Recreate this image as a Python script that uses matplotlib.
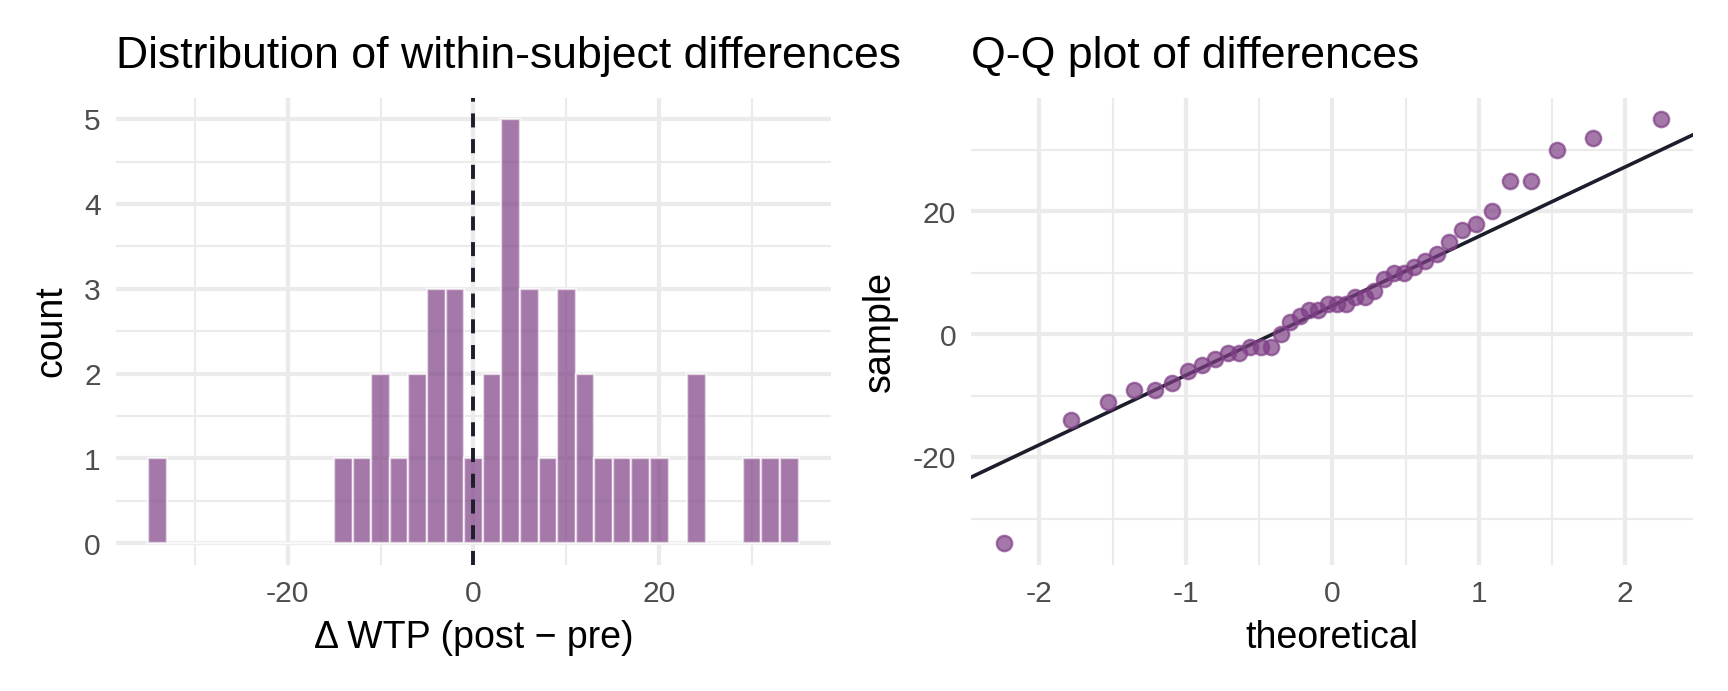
from statistics import NormalDist
import numpy as np
import matplotlib
matplotlib.use("Agg")
from matplotlib import pyplot as plt

plt.rcParams['font.family'] = ['Liberation Sans', 'DejaVu Sans']
plt.rcParams['axes.unicode_minus'] = False

# within-subject differences (post - pre)
diffs = [-34, -14, -11, -9, -9, -8, -6, -5, -4, -3, -3, -2, -2, -2, 0,
         2, 3, 4, 4, 5, 5, 5, 6, 6, 7, 9, 10, 10, 11, 12,
         13, 15, 17, 18, 20, 25, 25, 30, 32, 35]
bin_edges = np.arange(-35, 37, 2)
hist_xticks = [-20, 0, 20]
hist_yticks = [0, 1, 2, 3, 4, 5]
qq_xticks = [-2, -1, 0, 1, 2]
qq_yticks = [-20, 0, 20]

purple = '#7f3f86'
grid_col = '#ebebeb'
tick_col = '#4d4d4d'
line_col = '#1c1f2b'

fig = plt.figure(figsize=(8, 3.2), dpi=216)
ax1 = fig.add_axes([0.067, 0.183, 0.414, 0.675])
ax2 = fig.add_axes([0.562, 0.183, 0.418, 0.675])


def style(ax, xminor, yminor):
    for s in ax.spines.values():
        s.set_visible(False)
    ax.set_axisbelow(True)
    ax.set_xticks(xminor, minor=True)
    ax.set_yticks(yminor, minor=True)
    ax.grid(True, which='major', color=grid_col, linewidth=1.4)
    ax.grid(True, which='minor', color=grid_col, linewidth=0.7)
    ax.tick_params(which='both', length=0, labelsize=10, labelcolor=tick_col, pad=5)


# histogram, bins closed on the right like ggplot
d = np.array(diffs)
counts = np.histogram(-d, bins=-bin_edges[::-1])[0][::-1]
centers = (bin_edges[:-1] + bin_edges[1:]) / 2
ax1.bar(centers, counts, width=2, color=purple, alpha=0.7, edgecolor='white', linewidth=0.8)
ax1.axvline(0, color=line_col, linestyle=(0, (3.6, 3)), linewidth=1.3)
ax1.set_xlim(-38.5, 38.5)
ax1.set_ylim(-0.25, 5.25)
ax1.set_xticks(hist_xticks)
ax1.set_yticks(hist_yticks)
style(ax1, [-30, -10, 10, 30], np.arange(0.5, 5, 1))
ax1.set_xlabel('Δ WTP (post − pre)', fontsize=12.5, labelpad=4)
ax1.set_ylabel('count', fontsize=12.5, labelpad=5)
ax1.set_title('Distribution of within-subject differences', loc='left', fontsize=14.9, pad=10)

# Q-Q plot
n = len(diffs)
sample = np.sort(d)
nd = NormalDist()
theo = np.array([nd.inv_cdf((i - 0.5) / n) for i in range(1, n + 1)])
q1, q3 = np.quantile(sample, [0.25, 0.75])
z1, z3 = nd.inv_cdf(0.25), nd.inv_cdf(0.75)
slope = (q3 - q1) / (z3 - z1)
intercept = q1 - slope * z1

xlim = (-2.465, 2.465)
ax2.scatter(theo, sample, s=26, color=purple, alpha=0.7, linewidths=0.8, zorder=3)
xs = np.array(xlim)
ax2.plot(xs, intercept + slope * xs, color=line_col, linewidth=1.2, zorder=2)
ax2.set_xlim(*xlim)
ax2.set_ylim(-37.45, 38.45)
ax2.set_xticks(qq_xticks)
ax2.set_yticks(qq_yticks)
style(ax2, [-1.5, -0.5, 0.5, 1.5], [-30, -10, 10, 30])
ax2.set_xlabel('theoretical', fontsize=12.5, labelpad=4)
ax2.set_ylabel('sample', fontsize=12.5, labelpad=5)
ax2.set_title('Q-Q plot of differences', loc='left', fontsize=14.9, pad=10)

fig.savefig('out.png', dpi=216)
